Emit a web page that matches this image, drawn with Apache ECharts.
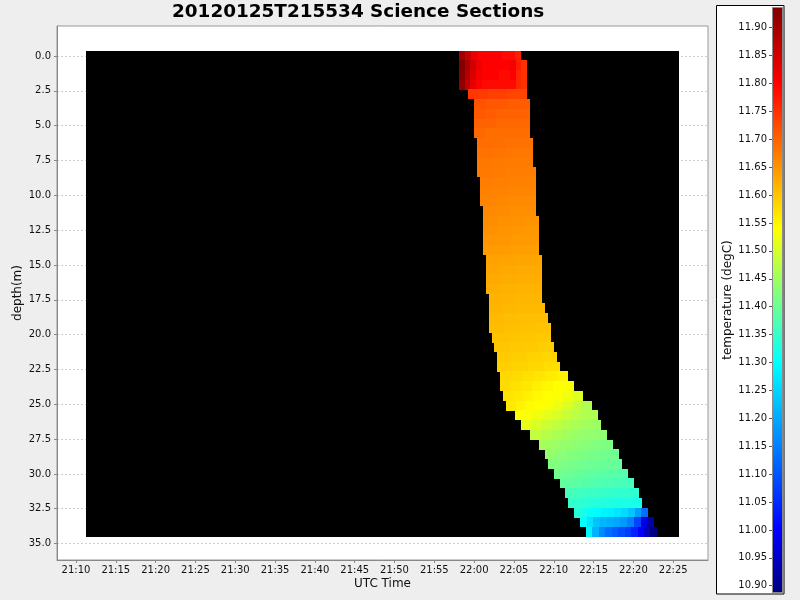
<!DOCTYPE html>
<html>
<head>
<meta charset="utf-8">
<script src="https://cdn.jsdelivr.net/npm/echarts@6/dist/echarts.min.js"></script>
<style>
html,body{margin:0;padding:0;background:#eeeeee;}
#c{width:800px;height:600px;}
</style>
</head>
<body>
<div id="c"></div>
<script>
// ---------------- data ----------------
const TITLE = '20120125T215534 Science Sections';
const X_TICKS = ['21:10','21:15','21:20','21:25','21:30','21:35','21:40','21:45','21:50','21:55','22:00','22:05','22:10','22:15','22:20','22:25'];
const X_RANGE = ['21:07:37', '22:29:22'];
const Y_TICKS = [0, 2.5, 5, 7.5, 10, 12.5, 15, 17.5, 20, 22.5, 25, 27.5, 30, 32.5, 35];
const Y_RANGE = [-2.154, 36.18];
const C_TICKS = [10.90,10.95,11.00,11.05,11.10,11.15,11.20,11.25,11.30,11.35,11.40,11.45,11.50,11.55,11.60,11.65,11.70,11.75,11.80,11.85,11.90];
const C_RANGE = [10.887, 11.937];
// extent of the gridded section (cells without data are black)
const NODATA_TIME = ['21:11:15', '22:25:41'];
const NODATA_DEPTH = [-0.38, 34.51];

// depth bin centres (m)
const DEPTH = [-0.03,0.67,1.37,2.06,2.76,3.46,4.16,4.86,5.55,6.25,6.95,7.65,8.35,9.04,9.74,10.44,11.14,11.84,12.53,13.23,
  13.93,14.63,15.33,16.02,16.72,17.42,18.12,18.82,19.51,20.21,20.91,21.61,22.31,23.00,23.70,24.40,25.10,25.80,26.49,27.19,
  27.89,28.59,29.29,29.98,30.68,31.38,32.08,32.78,33.47,34.17];
// first and last time of each depth bin
const ROW_START = ['21:58:05','21:58:05','21:58:05','21:58:05','21:59:13','21:59:58','21:59:58','21:59:58','21:59:58','22:00:21',
  '22:00:21','22:00:21','22:00:21','22:00:44','22:00:44','22:00:44','22:01:06','22:01:06','22:01:06','22:01:06',
  '22:01:06','22:01:29','22:01:29','22:01:29','22:01:29','22:01:51','22:01:51','22:01:51','22:01:51','22:02:14',
  '22:02:29','22:02:52','22:02:52','22:03:14','22:03:14','22:03:37','22:04:00','22:05:07','22:05:53','22:07:01',
  '22:08:08','22:08:53','22:09:16','22:10:01','22:10:46','22:11:24','22:11:47','22:12:32','22:13:17','22:14:02'];
const ROW_END = ['22:05:53','22:06:38','22:06:38','22:06:38','22:06:38','22:07:01','22:07:01','22:07:01','22:07:01','22:07:23',
  '22:07:23','22:07:23','22:07:46','22:07:46','22:07:46','22:07:46','22:07:46','22:08:08','22:08:08','22:08:08',
  '22:08:08','22:08:31','22:08:31','22:08:31','22:08:31','22:08:31','22:08:53','22:09:16','22:09:39','22:09:39',
  '22:10:01','22:10:24','22:10:46','22:11:47','22:12:32','22:13:40','22:14:47','22:15:33','22:15:55','22:16:41',
  '22:17:26','22:18:11','22:18:34','22:19:19','22:20:04','22:20:42','22:21:04','22:21:50','22:22:35','22:22:57'];
// temperature (degC) readings across each depth bin, earliest first
const ROW_TEMPS = [
  [11.90,11.86,11.82,11.80,11.80,11.80,11.80,11.79,11.79,11.77],
  [11.937,11.89,11.85,11.82,11.80,11.80,11.80,11.80,11.80,11.81,11.77,11.75],
  [11.93,11.88,11.84,11.81,11.80,11.80,11.80,11.79,11.79,11.80,11.76,11.75],
  [11.92,11.87,11.83,11.80,11.79,11.79,11.79,11.79,11.79,11.79,11.76,11.75],
  [11.745,11.74,11.735,11.735,11.73,11.73],
  [11.715,11.71,11.71,11.705,11.705],
  [11.71,11.705,11.70,11.70,11.70],
  [11.70,11.70,11.695,11.695,11.695],
  [11.695,11.69,11.69,11.69,11.69],
  [11.69,11.687,11.685,11.685],
  [11.685,11.682,11.68,11.68],
  [11.68,11.678,11.676,11.676],
  [11.677,11.675,11.673,11.673],
  [11.673,11.67,11.668,11.668],
  [11.668,11.666,11.664,11.664],
  [11.664,11.662,11.66,11.66],
  [11.66,11.657,11.655,11.655],
  [11.656,11.653,11.651,11.65],
  [11.652,11.649,11.647,11.646],
  [11.648,11.645,11.643,11.642],
  [11.643,11.64,11.638,11.637],
  [11.636,11.634,11.632,11.632],
  [11.632,11.629,11.627,11.627],
  [11.628,11.625,11.623,11.623],
  [11.623,11.62,11.618,11.618],
  [11.619,11.616,11.614,11.614],
  [11.615,11.612,11.61,11.61],
  [11.611,11.608,11.606,11.605],
  [11.607,11.604,11.602,11.60],
  [11.603,11.60,11.598,11.596],
  [11.599,11.596,11.593,11.59],
  [11.594,11.59,11.586,11.582],
  [11.589,11.585,11.58,11.574],
  [11.58,11.576,11.571,11.565,11.558,11.552],
  [11.576,11.571,11.564,11.556,11.548,11.54,11.536],
  [11.568,11.562,11.553,11.545,11.54,11.535,11.525,11.51],
  [11.562,11.552,11.544,11.54,11.535,11.522,11.505,11.485,11.465],
  [11.54,11.535,11.525,11.515,11.505,11.49,11.478,11.468,11.462],
  [11.518,11.505,11.492,11.48,11.47,11.46,11.452,11.448],
  [11.482,11.47,11.46,11.45,11.442,11.437,11.434],
  [11.455,11.447,11.44,11.433,11.427,11.422,11.419],
  [11.437,11.43,11.424,11.418,11.412,11.408,11.405],
  [11.422,11.416,11.41,11.405,11.40,11.398,11.396],
  [11.407,11.40,11.395,11.39,11.386,11.383,11.38],
  [11.392,11.386,11.38,11.375,11.371,11.368,11.365],
  [11.366,11.36,11.355,11.351,11.348,11.346,11.344],
  [11.346,11.34,11.335,11.331,11.327,11.324,11.322],
  [11.333,11.318,11.305,11.298,11.29,11.282,11.272,11.258,11.235,11.185,11.13],
  [11.30,11.27,11.228,11.215,11.205,11.195,11.18,11.15,11.08,10.975,10.92],
  [11.29,11.21,11.16,11.13,11.11,11.09,11.07,11.04,11.00,10.945,10.887]
];

// ---------------- style ----------------
const FONT = 'DejaVu Sans';
const ROW_HALF = 0.36; // half height of a depth bin in m (slight overlap hides seams)
const CMAP = [[10.887,'#000080'],[11.00,'#0000ff'],[11.30,'#00ffff'],[11.42,'#80ff80'],[11.54,'#ffff00'],[11.80,'#ff0000'],[11.937,'#800000']];

function ts(hms) {
  const p = hms.split(':').map(Number);
  return Date.UTC(2012, 0, 25, p[0], p[1], p[2] || 0);
}
function hex2rgb(h) { return [parseInt(h.substr(1,2),16), parseInt(h.substr(3,2),16), parseInt(h.substr(5,2),16)]; }
function colorOf(v) {
  if (v <= CMAP[0][0]) return CMAP[0][1];
  for (let i = 1; i < CMAP.length; i++) {
    if (v <= CMAP[i][0]) {
      const a = hex2rgb(CMAP[i-1][1]), b = hex2rgb(CMAP[i][1]);
      const f = (v - CMAP[i-1][0]) / (CMAP[i][0] - CMAP[i-1][0]);
      const c = a.map((x, k) => Math.round(x + (b[k] - x) * f));
      return 'rgb(' + c.join(',') + ')';
    }
  }
  return CMAP[CMAP.length-1][1];
}
function pad(n) { return (n < 10 ? '0' : '') + n; }

// cells: [tStart, tEnd, depth, temperature]
const cells = [];
DEPTH.forEach((d, k) => {
  const t0 = ts(ROW_START[k]), t1 = ts(ROW_END[k]);
  const temps = ROW_TEMPS[k];
  const n = temps.length;
  temps.forEach((v, i) => {
    cells.push([t0 + (t1 - t0) * i / n, t0 + (t1 - t0) * (i + 1) / n, d, v]);
  });
});

function rectItem(api, xa, xb, ya, yb, style) {
  const p1 = api.coord([xa, ya]);
  const p2 = api.coord([xb, yb]);
  const x0 = Math.round(Math.min(p1[0], p2[0])), x1 = Math.round(Math.max(p1[0], p2[0]));
  const y0 = Math.round(Math.min(p1[1], p2[1])), y1 = Math.round(Math.max(p1[1], p2[1]));
  return { type: 'rect', shape: { x: x0, y: y0, width: x1 - x0, height: y1 - y0 }, style: style };
}

const chart = echarts.init(document.getElementById('c'), null, { renderer: 'canvas' });
const labelStyle = { fontFamily: FONT, fontSize: 10, color: '#111' };
const option = {
  backgroundColor: '#eeeeee',
  animation: false,
  title: {
    text: TITLE, left: 172, top: 3, padding: 0,
    textStyle: { fontFamily: FONT, fontWeight: 'bold', fontSize: 18.4, color: '#000' }
  },
  graphic: {
    elements: [{
      type: 'rect', z: -5, silent: true,
      shape: { x: 716.5, y: 5.5, width: 67.5, height: 588.5 },
      style: { fill: '#ffffff', stroke: '#000000', lineWidth: 1 }
    }]
  },
  grid: [
    { left: 57, top: 26, right: 92, bottom: 40, show: true, backgroundColor: '#ffffff', borderColor: '#999999', borderWidth: 1 },
    { left: 772, top: 7, width: 11, height: 586 }
  ],
  xAxis: [
    {
      gridIndex: 0, type: 'value', min: ts(X_RANGE[0]), max: ts(X_RANGE[1]),
      name: 'UTC Time', nameLocation: 'middle', nameGap: 18, nameMoveOverlap: false,
      nameTextStyle: { fontFamily: FONT, fontSize: 12, color: '#111' },
      axisLine: { onZero: false, lineStyle: { color: '#888888' } },
      axisTick: { customValues: X_TICKS.map(ts), length: 3, lineStyle: { color: '#888888' } },
      axisLabel: Object.assign({ customValues: X_TICKS.map(ts), margin: 5, hideOverlap: false,
        formatter: v => { const d = new Date(v); return pad(d.getUTCHours()) + ':' + pad(d.getUTCMinutes()); } }, labelStyle),
      splitLine: { show: false }
    },
    { gridIndex: 1, type: 'value', min: 0, max: 1, show: false }
  ],
  yAxis: [
    {
      gridIndex: 0, type: 'value', inverse: true, min: Y_RANGE[0], max: Y_RANGE[1],
      name: 'depth(m)', nameLocation: 'middle', nameRotate: 90, nameGap: 33, nameMoveOverlap: false,
      nameTextStyle: { fontFamily: FONT, fontSize: 12, color: '#111' },
      axisLine: { show: true, onZero: false, lineStyle: { color: '#888888' } },
      axisTick: { show: true, customValues: Y_TICKS, length: 3, lineStyle: { color: '#888888' } },
      axisLabel: Object.assign({ customValues: Y_TICKS, margin: 6, formatter: v => v.toFixed(1) }, labelStyle),
      splitLine: { show: true, lineStyle: { color: '#cfcfcf', type: [2, 2], width: 1 } }
    },
    {
      gridIndex: 1, type: 'value', min: C_RANGE[0], max: C_RANGE[1], position: 'left',
      name: 'temperature (degC)', nameLocation: 'middle', nameRotate: 90, nameGap: 38, nameMoveOverlap: false,
      nameTextStyle: { fontFamily: FONT, fontSize: 12, color: '#111' },
      axisLine: { show: false, onZero: false },
      axisTick: { show: true, customValues: C_TICKS, length: 3, lineStyle: { color: '#555555' } },
      axisLabel: Object.assign({ customValues: C_TICKS, margin: 5, formatter: v => v.toFixed(2) }, labelStyle),
      splitLine: { show: false }
    }
  ],
  series: [
    {
      name: 'no data', type: 'custom', xAxisIndex: 0, yAxisIndex: 0, z: 1, silent: true,
      data: [[ts(NODATA_TIME[0]), ts(NODATA_TIME[1]), NODATA_DEPTH[0], NODATA_DEPTH[1]]],
      encode: { x: [0, 1], y: [2, 3] },
      renderItem: (params, api) => rectItem(api, api.value(0), api.value(1), api.value(2), api.value(3), { fill: '#000000' })
    },
    {
      name: 'temperature', type: 'custom', xAxisIndex: 0, yAxisIndex: 0, z: 2, silent: true,
      data: cells,
      encode: { x: [0, 1], y: 2 },
      renderItem: (params, api) => {
        const d = api.value(2);
        return rectItem(api, api.value(0), api.value(1), d - ROW_HALF, d + ROW_HALF, { fill: colorOf(api.value(3)) });
      }
    },
    {
      name: 'colorbar', type: 'custom', xAxisIndex: 1, yAxisIndex: 1, z: 2, silent: true,
      data: [[0, 1, C_RANGE[0], C_RANGE[1]]],
      encode: { x: [0, 1], y: [2, 3] },
      renderItem: (params, api) => {
        const lo = api.value(2), hi = api.value(3);
        const stops = CMAP.map(s => ({ offset: (hi - s[0]) / (hi - lo), color: s[1] })).reverse();
        const p1 = api.coord([api.value(0), hi]);
        const p2 = api.coord([api.value(1), lo]);
        return {
          type: 'rect',
          shape: { x: p1[0] + 0.5, y: p1[1] + 0.5, width: p2[0] - p1[0] - 1, height: p2[1] - p1[1] - 1 },
          style: { fill: new echarts.graphic.LinearGradient(0, 0, 0, 1, stops), stroke: '#8a8a8a', lineWidth: 1 }
        };
      }
    }
  ]
};
chart.setOption(option);
</script>
</body>
</html>
